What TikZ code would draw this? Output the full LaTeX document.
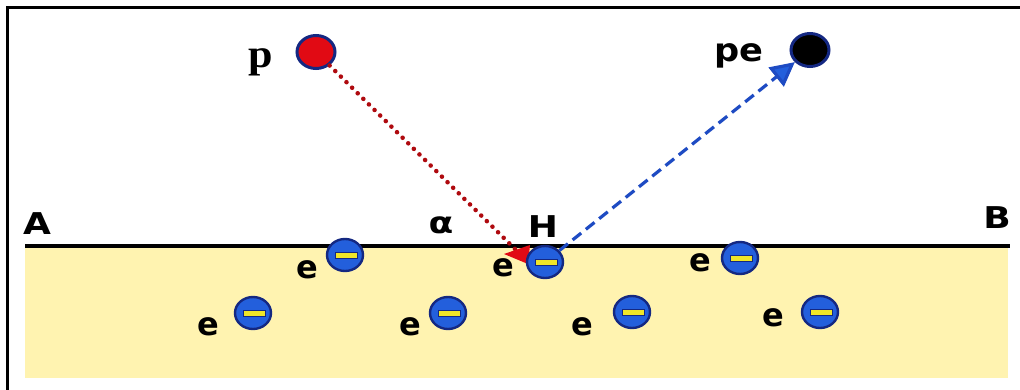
\documentclass[tikz,border=0pt]{standalone}
\usepackage{fontspec}
\newfontfamily\dejabold{DejaVu Sans}
\newfontfamily\serifb{Liberation Serif}
\usetikzlibrary{shapes.geometric,arrows.meta}
\definecolor{sand}{RGB}{255,243,176}
\definecolor{navy}{RGB}{20,40,130}
\definecolor{eblue}{RGB}{35,95,220}
\definecolor{ybar}{RGB}{240,230,40}
\definecolor{ballred}{RGB}{225,10,20}
\definecolor{dotred}{RGB}{175,10,15}
\definecolor{dashblue}{RGB}{30,75,195}
\tikzset{
  lbl/.style={inner sep=0pt, font=\dejabold\bfseries\fontsize{30}{30}\selectfont, xscale=1.2},
  elab/.style={inner sep=0pt, font=\dejabold\bfseries\fontsize{32}{32}\selectfont},
  elec/.style={ellipse, draw=navy, line width=2.4pt, fill=eblue, minimum width=36pt, minimum height=32pt, inner sep=0pt,
    path picture={\draw[fill=ybar, draw=navy, line width=0.8pt]
      ([xshift=-10pt,yshift=-3pt]path picture bounding box.center) rectangle
      ([xshift=12pt,yshift=3pt]path picture bounding box.center);}},
  ball/.style={ellipse, draw=navy, line width=3pt, minimum width=38pt, minimum height=33pt, inner sep=0pt},
  reddot/.style={draw=dotred, line width=4.5pt, line cap=round, dash pattern=on 0.1pt off 7.8pt},
  bdash/.style={draw=dashblue, line width=3.2pt, dash pattern=on 11pt off 6pt,
    -{Triangle[length=24pt,width=24pt,fill=eblue]}},
}
\begin{document}
\begin{tikzpicture}[x=1pt,y=-1pt]
\useasboundingbox (0,0) rectangle (1020,390);
\fill[white] (0,0) rectangle (1020,390);
% frame
\draw[line width=3pt] (7,390) -- (7,8) -- (1020,8);
% material
\fill[sand] (25,247) rectangle (1008,378);
\coordinate (As) at (25,246);
\coordinate (Be) at (1010,246);
\draw[line width=4pt] (As) -- (Be);
% labels
\node[lbl] (A) at (37,224) {A};
\node[lbl] (B) at (997,218) {B};
\node[lbl] (H) at (543,227) {H};
\node[lbl] (al) at (441,225) {α};
% balls
\node[ball, fill=ballred] (p) at (316,52) {};
\node[ball, fill=black] (pe) at (810,50) {};
\node[inner sep=0pt, font=\serifb\bfseries\fontsize{40}{40}\selectfont, xscale=1.1] (pl) at (261,62) {p};
\node[elab, xscale=1.1] (pel) at (739,56) {pe};
% incoming proton
\coordinate (hit) at (516,250);
\draw[reddot] (p) -- (hit);
\fill[ballred] (504,254) -- (530,245) -- (528,264) -- cycle;
% electrons
\node[elec] (e1) at (345,255) {};
\node[elec] (e2) at (545,262) {};
\node[elec] (e3) at (740,258) {};
\node[elec] (e4) at (253,313) {};
\node[elec] (e5) at (448,313) {};
\node[elec] (e6) at (632,312) {};
\node[elec] (e7) at (820,312) {};
\node[elab] (l1) at (307,270) {e};
\node[elab] (l2) at (503,268) {e};
\node[elab] (l3) at (700,263) {e};
\node[elab] (l4) at (208,327) {e};
\node[elab] (l5) at (410,327) {e};
\node[elab] (l6) at (582,327) {e};
\node[elab] (l7) at (773,318) {e};
% outgoing
\draw[bdash] (e2) -- (pe);
\end{tikzpicture}
\end{document}
